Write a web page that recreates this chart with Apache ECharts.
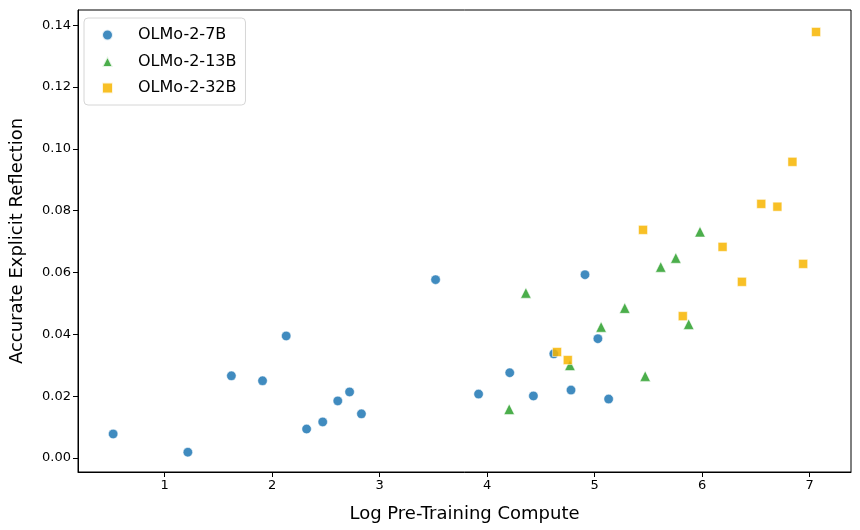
<!DOCTYPE html>
<html>
<head>
<meta charset="utf-8">
<script src="https://cdn.jsdelivr.net/npm/echarts@6/dist/echarts.min.js"></script>
<style>html,body{margin:0;padding:0;background:#fff}#c{width:860px;height:530px}</style>
</head>
<body>
<div id="c"></div>
<script>
const seriesNames = ['OLMo-2-7B', 'OLMo-2-13B', 'OLMo-2-32B'];
const olmo7bX = [0.52, 1.215, 1.62, 1.91, 2.13, 2.32, 2.47, 2.61, 2.72, 2.83, 3.52, 3.92, 4.21, 4.43, 4.62, 4.78, 4.91, 5.03, 5.13];
const olmo7bY = [0.0078, 0.0019, 0.0266, 0.025, 0.0395, 0.0094, 0.0117, 0.0185, 0.0214, 0.0143, 0.0577, 0.0207, 0.0276, 0.0201, 0.0337, 0.022, 0.0593, 0.0386, 0.0191];
const olmo13bX = [4.205, 4.36, 4.77, 5.06, 5.28, 5.47, 5.615, 5.755, 5.875, 5.98];
const olmo13bY = [0.0158, 0.0534, 0.0300, 0.0424, 0.0485, 0.0265, 0.0618, 0.0647, 0.0433, 0.0732];
const olmo32bX = [4.65, 4.75, 5.45, 5.82, 6.19, 6.37, 6.55, 6.70, 6.84, 6.94, 7.06];
const olmo32bY = [0.0343, 0.0317, 0.0738, 0.0459, 0.0683, 0.0570, 0.0822, 0.0813, 0.0958, 0.0628, 0.1378];
const xTicks = [1, 2, 3, 4, 5, 6, 7];
const yTicks = [0.00, 0.02, 0.04, 0.06, 0.08, 0.10, 0.12, 0.14];

const zip = (xs, ys) => xs.map((x, i) => [x, ys[i]]);
const font = 'DejaVu Sans';
const chart = echarts.init(document.getElementById('c'), null, {renderer: 'canvas'});
const mk = (name, xs, ys, color, symbol, size) => ({
  name, type: 'scatter', data: zip(xs, ys), symbol, symbolSize: size,
  itemStyle: {color, opacity: 0.85, borderColor: '#ffffff', borderWidth: 0.6}
});
chart.setOption({
  animation: false,
  backgroundColor: '#ffffff',
  textStyle: {fontFamily: font},
  grid: {left: 75, right: 9, top: 10, bottom: 58, show: true, borderColor: '#000', borderWidth: 1, containLabel: false},
  legend: {
    orient: 'vertical', left: 84, top: 18,
    data: seriesNames,
    itemWidth: 11, itemHeight: 11, itemGap: 10.5,
    padding: [9, 9, 9, 17],
    borderColor: '#d6d6d6', borderWidth: 1, borderRadius: 4,
    backgroundColor: '#ffffff',
    textStyle: {fontFamily: font, fontSize: 16, color: '#000', padding: [0, 0, 0, 20]}
  },
  xAxis: {
    type: 'value', min: 0.193, max: 7.385,
    name: 'Log Pre-Training Compute', nameLocation: 'middle', nameGap: 33,
    nameTextStyle: {fontFamily: font, fontSize: 18, color: '#000'},
    axisLine: {show: true, onZero: false, lineStyle: {color: '#000', width: 1}},
    axisTick: {show: true, inside: false, length: 5, lineStyle: {color: '#000'}, customValues: xTicks},
    axisLabel: {fontFamily: font, fontSize: 13, color: '#000', margin: 7, customValues: xTicks, formatter: v => String(v)},
    splitLine: {show: false}
  },
  yAxis: {
    type: 'value', min: -0.0045, max: 0.1449,
    name: 'Accurate Explicit Reflection', nameLocation: 'middle', nameGap: 52,
    nameTextStyle: {fontFamily: font, fontSize: 18, color: '#000'},
    axisLine: {show: true, onZero: false, lineStyle: {color: '#000', width: 1}},
    axisTick: {show: true, inside: false, length: 5, lineStyle: {color: '#000'}, customValues: yTicks},
    axisLabel: {fontFamily: font, fontSize: 13, color: '#000', margin: 7, customValues: yTicks, formatter: v => v.toFixed(2)},
    splitLine: {show: false}
  },
  series: [
    mk(seriesNames[0], olmo7bX, olmo7bY, '#1f77b4', 'circle', 9.5),
    mk(seriesNames[1], olmo13bX, olmo13bY, '#2ca02c', 'triangle', 10.5),
    mk(seriesNames[2], olmo32bX, olmo32bY, '#f7b500', 'rect', 9)
  ]
});
</script>
</body>
</html>
